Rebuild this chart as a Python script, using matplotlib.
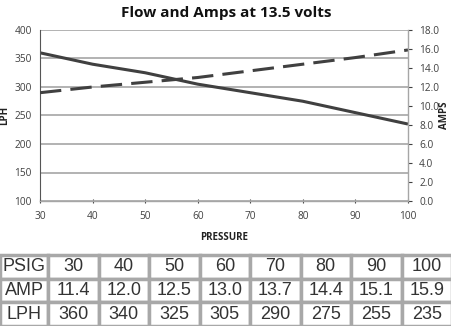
import numpy as np
import matplotlib

matplotlib.use("Agg")
import matplotlib.pyplot as plt

# pump curve at 13.5 V
psig = [30, 40, 50, 60, 70, 80, 90, 100]
amps = [11.4, 12.0, 12.5, 13.0, 13.7, 14.4, 15.1, 15.9]
lph = [360, 340, 325, 305, 290, 275, 255, 235]

LINE = "#404040"
GRID = "#a6a6a6"
TEXT = "#404040"

plt.rcParams["font.family"] = ["Open Sans", "DejaVu Sans"]

fig = plt.figure(figsize=(4.52, 3.26), dpi=100)
ax = fig.add_axes([40 / 452, 1 - 201 / 326, 368 / 452, 171 / 326])

ax.plot(psig, lph, color=LINE, lw=2.2, solid_capstyle="butt")
ax.set_xlim(30, 100)
ax.set_ylim(100, 400)
ax.set_xticks(np.arange(30, 101, 10))
ax.set_yticks(np.arange(100, 401, 50))
ax.yaxis.grid(True, color=GRID, lw=1.2)
ax.set_axisbelow(True)
ax.tick_params(axis="both", labelsize=7.3, colors=TEXT, length=3, width=0.8)
ax.tick_params(axis="x", direction="inout", pad=6)
ax.tick_params(axis="y", length=0, pad=6)
for side in ("top", "right"):
    ax.spines[side].set_visible(False)
ax.spines["left"].set_color("#555555")
ax.spines["bottom"].set_color(GRID)
ax.spines["left"].set_linewidth(0.8)
ax.spines["bottom"].set_linewidth(1.0)
ax.set_xlabel("PRESSURE", fontsize=7, fontweight="bold", color="#222222", labelpad=7)
ax.set_ylabel("LPH", fontsize=7, fontweight="bold", color="#222222")
ax.yaxis.set_label_coords(-30 / 368, 0.5)

ax2 = ax.twinx()
ax2.plot(psig, amps, color=LINE, lw=2.2, dashes=(7, 3))
ax2.set_ylim(0, 18)
ax2.set_yticks(np.arange(0, 18.1, 2))
ax2.set_yticklabels([f"{v:.1f}" for v in np.arange(0, 18.1, 2)])
ax2.tick_params(axis="y", labelsize=7.3, colors=TEXT, length=3, width=0.8, pad=5)
for side in ("top", "left", "bottom"):
    ax2.spines[side].set_visible(False)
ax2.spines["right"].set_color(GRID)
ax2.spines["right"].set_linewidth(1.0)
ax2.set_ylabel("AMPS", fontsize=7, fontweight="bold", color="#222222")
ax2.yaxis.set_label_coords(1 + 31 / 368, 0.5)

fig.text(0.5, 1 - 13 / 326, "Flow and Amps at 13.5 volts", ha="center", va="center",
         fontsize=11, fontweight="bold", color="#111111")

# data table underneath the chart
tab_ax = fig.add_axes([0, 0, 1, 71 / 326])
tab_ax.axis("off")
rows = [["PSIG"] + [str(v) for v in psig],
        ["AMP"] + [f"{v:.1f}" for v in amps],
        ["LPH"] + [str(v) for v in lph]]
first = 48 / 452
widths = [first] + [(1 - first) / 8] * 8
tbl = tab_ax.table(cellText=rows, colWidths=widths, bbox=[0, 0, 1, 1], cellLoc="center")
tbl.auto_set_font_size(False)
for (r, c), cell in tbl.get_celld().items():
    cell.set_edgecolor("#a8a8a8")
    cell.set_linewidth(2.5)
    cell.get_text().set_fontsize(13)
    cell.get_text().set_color("#333333")
    cell.get_text().set_fontfamily(["Liberation Sans", "DejaVu Sans"])

fig.savefig("out.png", dpi=100)
